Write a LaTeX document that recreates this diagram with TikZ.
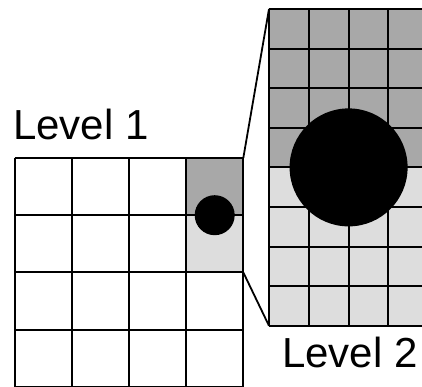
\documentclass[tikz,border=0pt]{standalone}
\usepackage{fontspec}
\setmainfont{Liberation Sans}
\definecolor{darkcell}{HTML}{A8A8A8}
\definecolor{lightcell}{HTML}{DDDDDD}
\begin{document}
\begin{tikzpicture}[x=1pt,y=-1pt,
  gridline/.style={line width=2pt,black},
  zoomline/.style={line width=1.8pt,black},
  ball/.style={fill=black},
  label/.style={inner sep=0pt,anchor=base west,font=\fontsize{42}{50}\selectfont}]
\useasboundingbox (0,0) rectangle (422,387);
\clip (0,0) rectangle (422,387);
\fill[white] (0,0) rectangle (422,387);
% left grid (Level 1)
\fill[darkcell] (186.1,158) rectangle (243.3,215.2);
\fill[lightcell] (186.1,215.2) rectangle (243.3,272.4);
\foreach \i in {0,...,4} {
  \draw[gridline] (14.5+57.2*\i,158) -- (14.5+57.2*\i,390);
  \draw[gridline] (14.5,158+57.2*\i) -- (243.3,158+57.2*\i);
}
\fill[ball] (214.7,215.2) circle (20);
% right grid (Level 2)
\fill[darkcell] (269,9) rectangle (430,167.4);
\fill[lightcell] (269,167.4) rectangle (430,325.8);
\foreach \i in {0,...,4} {
  \draw[gridline] (269+39.8*\i,9) -- (269+39.8*\i,325.8);
}
\foreach \j in {0,...,8} {
  \draw[gridline] (269,9+39.6*\j) -- (430,9+39.6*\j);
}
\fill[ball] (348.6,167.4) circle (59);
% zoom connectors
\coordinate (a1) at (243.3,158);
\coordinate (a2) at (243.3,272.4);
\coordinate (b1) at (269,9);
\coordinate (b2) at (269,325.8);
\draw[zoomline] (a1) -- (b1);
\draw[zoomline] (a2) -- (b2);
% labels
\node[label] (l1) at (13,140) {Level 1};
\node[label] (l2) at (282,367) {Level 2};
\end{tikzpicture}
\end{document}
